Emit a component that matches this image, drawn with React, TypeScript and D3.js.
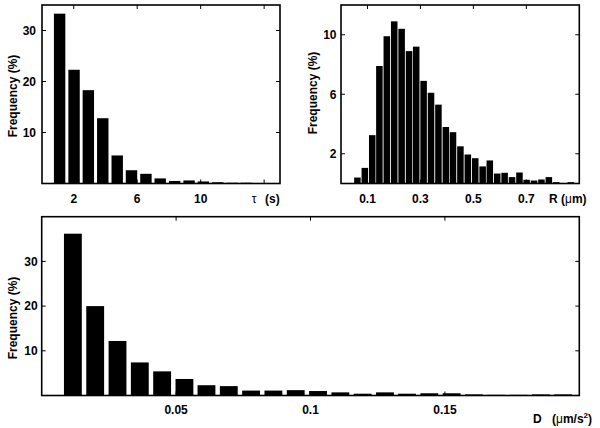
import React from "react";
import * as d3 from "d3";

// ---- Data ----
// Panel A: dwell time tau (s)
const tauCenters = [1.11, 2.02, 2.92, 3.83, 4.74, 5.64, 6.55, 7.45, 8.36, 9.27, 10.17, 11.08, 11.99, 12.89];
const tauFreq = [33.3, 22.3, 18.3, 12.8, 5.5, 2.6, 1.9, 1.0, 0.5, 0.6, 0.4, 0.25, 0.15, 0.15];
const tauTicksX = [2, 6, 10, 14];
const tauTickLabels = ["2", "6", "10"];
const tauTicksY = [10, 20, 30];

// Panel B: radius R (um)
const rCenters = [0.062, 0.090, 0.118, 0.145, 0.173, 0.201, 0.229, 0.257, 0.284, 0.312, 0.340, 0.368, 0.396, 0.423, 0.451, 0.479, 0.507, 0.535, 0.562, 0.590, 0.618, 0.646, 0.674, 0.701, 0.729, 0.757, 0.785, 0.813, 0.840, 0.868];
const rFreq = [0.4, 1.05, 3.25, 7.9, 9.9, 10.9, 10.4, 8.9, 9.2, 6.9, 6.1, 5.3, 3.8, 3.45, 2.5, 1.95, 1.7, 1.15, 1.55, 0.67, 0.72, 0.43, 0.74, 0.25, 0.2, 0.27, 0.43, 0.09, 0.0, 0.09];
const rTicksX = [0.1, 0.3, 0.5, 0.7];
const rTickLabels = ["0.1", "0.3", "0.5", "0.7"];
const rTicksY = [2, 6, 10];

// Panel C: diffusion D (um/s^2)
const dCenters = [0.0116, 0.0199, 0.0282, 0.0365, 0.0448, 0.0531, 0.0613, 0.0696, 0.0779, 0.0862, 0.0945, 0.1028, 0.1111, 0.1194, 0.1277, 0.1359, 0.1442, 0.1525, 0.1608, 0.1691, 0.1774, 0.1857, 0.1940];
const dFreq = [36.2, 20.0, 12.2, 7.4, 5.4, 3.7, 2.3, 2.1, 1.1, 1.1, 1.2, 1.0, 0.7, 0.4, 0.7, 0.4, 0.5, 0.5, 0.25, 0.15, 0.15, 0.25, 0.25];
const dTicksX = [0.05, 0.1, 0.15];
const dTickLabels = ["0.05", "0.1", "0.15"];
const dTicksY = [10, 20, 30];

const FONT = "Liberation Sans, Arial, Helvetica, sans-serif";

type PanelProps = {
  left: number; right: number; top: number; bottom: number;
  xDomain: [number, number]; yDomain: [number, number];
  centers: number[]; values: number[]; binFrac: number;
  xTicks: number[]; xTickLabels: string[]; yTicks: number[];
  yLabelOffset: number; xLabelOffset: number;
  freqX: number; freqY: number;
  children?: React.ReactNode;
};

function Panel(p: PanelProps) {
  const x = d3.scaleLinear().domain(p.xDomain).range([p.left, p.right]);
  const y = d3.scaleLinear().domain(p.yDomain).range([p.bottom, p.top]);
  const spacing = p.centers.length > 1 ? x(p.centers[1]) - x(p.centers[0]) : 10;
  const bw = spacing * p.binFrac;
  const tl = 4;
  return (
    <g>
      {p.centers.map((c, i) => (
        <rect key={i} x={x(c) - bw / 2} y={y(p.values[i])} width={bw}
          height={Math.max(0, y(0) - y(p.values[i]))} fill="#000" />
      ))}
      <rect x={p.left} y={p.top} width={p.right - p.left} height={p.bottom - p.top}
        fill="none" stroke="#000" strokeWidth={1.6} />
      {p.xTicks.map((t, i) => (
        <g key={"xt" + i}>
          <line x1={x(t)} x2={x(t)} y1={p.bottom} y2={p.bottom - tl} stroke="#000" strokeWidth={1} />
          <line x1={x(t)} x2={x(t)} y1={p.top} y2={p.top + tl} stroke="#000" strokeWidth={1} />
        </g>
      ))}
      {p.yTicks.map((t, i) => (
        <g key={"yt" + i}>
          <line x1={p.left} x2={p.left + tl} y1={y(t)} y2={y(t)} stroke="#000" strokeWidth={1} />
          <line x1={p.right} x2={p.right - tl} y1={y(t)} y2={y(t)} stroke="#000" strokeWidth={1} />
          <text x={p.left - p.yLabelOffset} y={y(t)} dy="0.36em" textAnchor="end"
            fontFamily={FONT} fontSize={12} fontWeight="bold">{String(t)}</text>
        </g>
      ))}
      {p.xTickLabels.map((s, i) => (
        <text key={"xl" + i} x={x(p.xTicks[i])} y={p.bottom + p.xLabelOffset} textAnchor="middle"
          fontFamily={FONT} fontSize={12} fontWeight="bold">{s}</text>
      ))}
      <text transform={`translate(${p.freqX},${p.freqY}) rotate(-90)`} textAnchor="middle"
        dy="0.36em" fontFamily={FONT} fontSize={12} fontWeight="bold">Frequency (%)</text>
      {p.children}
    </g>
  );
}

export default function App() {
  return (
    <svg width={600} height={428} style={{ position: "absolute", left: 0, top: 0, background: "#fff" }}>
      <rect x={0} y={0} width={600} height={428} fill="#fff" />
      <Panel left={42} right={280} top={5} bottom={183.5} xDomain={[0, 15]} yDomain={[0, 35]}
        centers={tauCenters} values={tauFreq} binFrac={0.79}
        xTicks={tauTicksX} xTickLabels={tauTickLabels} yTicks={tauTicksY}
        yLabelOffset={6} xLabelOffset={19} freqX={12.5} freqY={96}>
        <text x={254} y={202.5} textAnchor="middle" fontFamily={FONT} fontSize={12}>τ</text>
        <text x={265} y={202.5} fontFamily={FONT} fontSize={12} fontWeight="bold">(s)</text>
      </Panel>
      <Panel left={341} right={579.3} top={5} bottom={183.5} xDomain={[0, 0.9]} yDomain={[0, 12]}
        centers={rCenters} values={rFreq} binFrac={0.88}
        xTicks={rTicksX} xTickLabels={rTickLabels} yTicks={rTicksY}
        yLabelOffset={4.5} xLabelOffset={19} freqX={312.5} freqY={93}>
        <text x={549} y={202.5} fontFamily={FONT} fontSize={12} fontWeight="bold">R</text>
        <text x={561} y={202.5} fontFamily={FONT} fontSize={12} fontWeight="bold">(<tspan fontWeight="normal">μ</tspan>m)</text>
      </Panel>
      <Panel left={41.7} right={579.3} top={216.7} bottom={395.5} xDomain={[0, 0.2]} yDomain={[0, 40]}
        centers={dCenters} values={dFreq} binFrac={0.8}
        xTicks={dTicksX} xTickLabels={dTickLabels} yTicks={dTicksY}
        yLabelOffset={4} xLabelOffset={18} freqX={13} freqY={318}>
        <text x={533} y={423} fontFamily={FONT} fontSize={12} fontWeight="bold">D</text>
        <text x={552} y={423} fontFamily={FONT} fontSize={12} fontWeight="bold">(<tspan fontWeight="normal">μ</tspan>m/s<tspan fontSize={8} dy={-5}>2</tspan><tspan dy={5}>)</tspan></text>
      </Panel>
    </svg>
  );
}
